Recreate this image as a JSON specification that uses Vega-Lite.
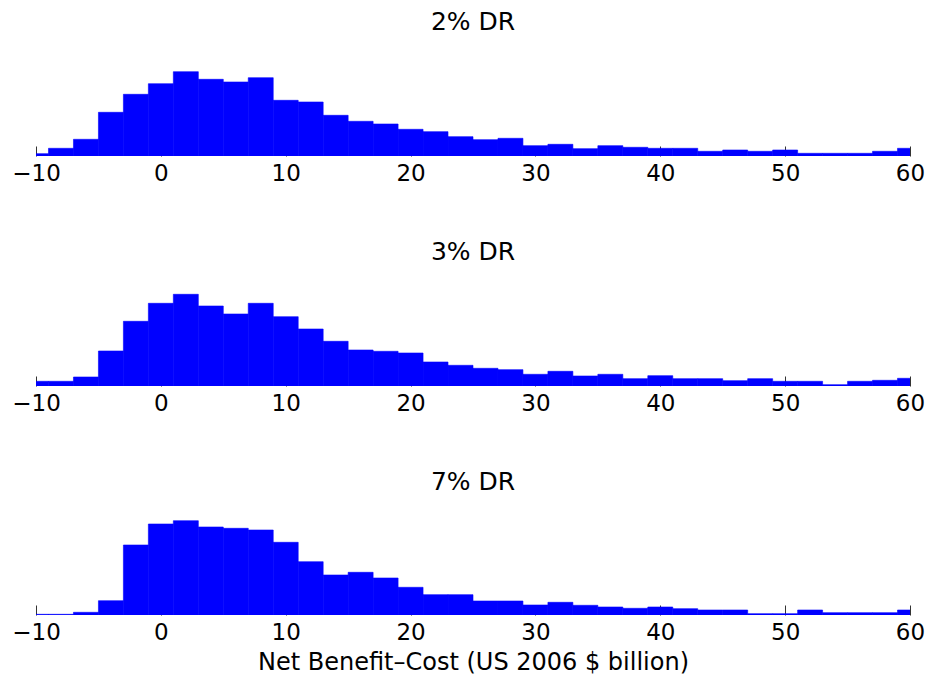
{
  "$schema": "https://vega.github.io/schema/vega-lite/v6.json",
  "padding": {"left": 11, "top": 10, "right": 0, "bottom": 0},
  "background": "white",
  "config": {
    "view": {"stroke": null},
    "font": "DejaVu Sans",
    "axis": {
      "labelFont": "DejaVu Sans",
      "labelFontSize": 23,
      "labelColor": "#000000",
      "titleFont": "DejaVu Sans",
      "titleFontSize": 24,
      "titleFontWeight": "normal",
      "titleColor": "#000000"
    },
    "title": {"font": "DejaVu Sans", "fontSize": 25, "fontWeight": "normal", "color": "#000000"}
  },
  "datasets": {
    "hist": [
      {"dr": "2%", "c": -10, "lo": -11, "hi": -9, "h": 2.3},
      {"dr": "2%", "c": -8, "lo": -9, "hi": -7, "h": 7.7},
      {"dr": "2%", "c": -6, "lo": -7, "hi": -5, "h": 16.7},
      {"dr": "2%", "c": -4, "lo": -5, "hi": -3, "h": 43.7},
      {"dr": "2%", "c": -2, "lo": -3, "hi": -1, "h": 61.7},
      {"dr": "2%", "c": 0, "lo": -1, "hi": 1, "h": 72.3},
      {"dr": "2%", "c": 2, "lo": 1, "hi": 3, "h": 84.3},
      {"dr": "2%", "c": 4, "lo": 3, "hi": 5, "h": 76.7},
      {"dr": "2%", "c": 6, "lo": 5, "hi": 7, "h": 74},
      {"dr": "2%", "c": 8, "lo": 7, "hi": 9, "h": 78.3},
      {"dr": "2%", "c": 10, "lo": 9, "hi": 11, "h": 55.7},
      {"dr": "2%", "c": 12, "lo": 11, "hi": 13, "h": 54},
      {"dr": "2%", "c": 14, "lo": 13, "hi": 15, "h": 40.7},
      {"dr": "2%", "c": 16, "lo": 15, "hi": 17, "h": 34.7},
      {"dr": "2%", "c": 18, "lo": 17, "hi": 19, "h": 32},
      {"dr": "2%", "c": 20, "lo": 19, "hi": 21, "h": 26.7},
      {"dr": "2%", "c": 22, "lo": 21, "hi": 23, "h": 24.3},
      {"dr": "2%", "c": 24, "lo": 23, "hi": 25, "h": 19.3},
      {"dr": "2%", "c": 26, "lo": 25, "hi": 27, "h": 16.3},
      {"dr": "2%", "c": 28, "lo": 27, "hi": 29, "h": 17.7},
      {"dr": "2%", "c": 30, "lo": 29, "hi": 31, "h": 10.3},
      {"dr": "2%", "c": 32, "lo": 31, "hi": 33, "h": 11.7},
      {"dr": "2%", "c": 34, "lo": 33, "hi": 35, "h": 7.3},
      {"dr": "2%", "c": 36, "lo": 35, "hi": 37, "h": 10.3},
      {"dr": "2%", "c": 38, "lo": 37, "hi": 39, "h": 8.7},
      {"dr": "2%", "c": 40, "lo": 39, "hi": 41, "h": 7.7},
      {"dr": "2%", "c": 42, "lo": 41, "hi": 43, "h": 7.7},
      {"dr": "2%", "c": 44, "lo": 43, "hi": 45, "h": 4.7},
      {"dr": "2%", "c": 46, "lo": 45, "hi": 47, "h": 6},
      {"dr": "2%", "c": 48, "lo": 47, "hi": 49, "h": 4.7},
      {"dr": "2%", "c": 50, "lo": 49, "hi": 51, "h": 6},
      {"dr": "2%", "c": 52, "lo": 51, "hi": 53, "h": 2.7},
      {"dr": "2%", "c": 54, "lo": 53, "hi": 55, "h": 2.7},
      {"dr": "2%", "c": 56, "lo": 55, "hi": 57, "h": 2.7},
      {"dr": "2%", "c": 58, "lo": 57, "hi": 59, "h": 4.7},
      {"dr": "2%", "c": 60, "lo": 59, "hi": 61, "h": 7.7},
      {"dr": "3%", "c": -10, "lo": -11, "hi": -9, "h": 4.7},
      {"dr": "3%", "c": -8, "lo": -9, "hi": -7, "h": 4.7},
      {"dr": "3%", "c": -6, "lo": -7, "hi": -5, "h": 9},
      {"dr": "3%", "c": -4, "lo": -5, "hi": -3, "h": 35},
      {"dr": "3%", "c": -2, "lo": -3, "hi": -1, "h": 64.7},
      {"dr": "3%", "c": 0, "lo": -1, "hi": 1, "h": 82.7},
      {"dr": "3%", "c": 2, "lo": 1, "hi": 3, "h": 91.7},
      {"dr": "3%", "c": 4, "lo": 3, "hi": 5, "h": 80},
      {"dr": "3%", "c": 6, "lo": 5, "hi": 7, "h": 72},
      {"dr": "3%", "c": 8, "lo": 7, "hi": 9, "h": 82.7},
      {"dr": "3%", "c": 10, "lo": 9, "hi": 11, "h": 69.3},
      {"dr": "3%", "c": 12, "lo": 11, "hi": 13, "h": 57},
      {"dr": "3%", "c": 14, "lo": 13, "hi": 15, "h": 44.7},
      {"dr": "3%", "c": 16, "lo": 15, "hi": 17, "h": 36},
      {"dr": "3%", "c": 18, "lo": 17, "hi": 19, "h": 34.7},
      {"dr": "3%", "c": 20, "lo": 19, "hi": 21, "h": 33},
      {"dr": "3%", "c": 22, "lo": 21, "hi": 23, "h": 24},
      {"dr": "3%", "c": 24, "lo": 23, "hi": 25, "h": 20.7},
      {"dr": "3%", "c": 26, "lo": 25, "hi": 27, "h": 17.7},
      {"dr": "3%", "c": 28, "lo": 27, "hi": 29, "h": 16.3},
      {"dr": "3%", "c": 30, "lo": 29, "hi": 31, "h": 11.7},
      {"dr": "3%", "c": 32, "lo": 31, "hi": 33, "h": 14.7},
      {"dr": "3%", "c": 34, "lo": 33, "hi": 35, "h": 10},
      {"dr": "3%", "c": 36, "lo": 35, "hi": 37, "h": 11.7},
      {"dr": "3%", "c": 38, "lo": 37, "hi": 39, "h": 7.3},
      {"dr": "3%", "c": 40, "lo": 39, "hi": 41, "h": 10.3},
      {"dr": "3%", "c": 42, "lo": 41, "hi": 43, "h": 7.3},
      {"dr": "3%", "c": 44, "lo": 43, "hi": 45, "h": 7.3},
      {"dr": "3%", "c": 46, "lo": 45, "hi": 47, "h": 5.3},
      {"dr": "3%", "c": 48, "lo": 47, "hi": 49, "h": 7.3},
      {"dr": "3%", "c": 50, "lo": 49, "hi": 51, "h": 4.7},
      {"dr": "3%", "c": 52, "lo": 51, "hi": 53, "h": 4.7},
      {"dr": "3%", "c": 54, "lo": 53, "hi": 55, "h": 1.3},
      {"dr": "3%", "c": 56, "lo": 55, "hi": 57, "h": 4.7},
      {"dr": "3%", "c": 58, "lo": 57, "hi": 59, "h": 5.7},
      {"dr": "3%", "c": 60, "lo": 59, "hi": 61, "h": 7.7},
      {"dr": "7%", "c": -10, "lo": -11, "hi": -9, "h": 0.7},
      {"dr": "7%", "c": -8, "lo": -9, "hi": -7, "h": 0.7},
      {"dr": "7%", "c": -6, "lo": -7, "hi": -5, "h": 2.7},
      {"dr": "7%", "c": -4, "lo": -5, "hi": -3, "h": 14.3},
      {"dr": "7%", "c": -2, "lo": -3, "hi": -1, "h": 70},
      {"dr": "7%", "c": 0, "lo": -1, "hi": 1, "h": 91},
      {"dr": "7%", "c": 2, "lo": 1, "hi": 3, "h": 94.3},
      {"dr": "7%", "c": 4, "lo": 3, "hi": 5, "h": 88},
      {"dr": "7%", "c": 6, "lo": 5, "hi": 7, "h": 86.7},
      {"dr": "7%", "c": 8, "lo": 7, "hi": 9, "h": 85},
      {"dr": "7%", "c": 10, "lo": 9, "hi": 11, "h": 72.7},
      {"dr": "7%", "c": 12, "lo": 11, "hi": 13, "h": 53.3},
      {"dr": "7%", "c": 14, "lo": 13, "hi": 15, "h": 40},
      {"dr": "7%", "c": 16, "lo": 15, "hi": 17, "h": 42.7},
      {"dr": "7%", "c": 18, "lo": 17, "hi": 19, "h": 37},
      {"dr": "7%", "c": 20, "lo": 19, "hi": 21, "h": 27.7},
      {"dr": "7%", "c": 22, "lo": 21, "hi": 23, "h": 20.3},
      {"dr": "7%", "c": 24, "lo": 23, "hi": 25, "h": 20.3},
      {"dr": "7%", "c": 26, "lo": 25, "hi": 27, "h": 14},
      {"dr": "7%", "c": 28, "lo": 27, "hi": 29, "h": 14},
      {"dr": "7%", "c": 30, "lo": 29, "hi": 31, "h": 10},
      {"dr": "7%", "c": 32, "lo": 31, "hi": 33, "h": 12.7},
      {"dr": "7%", "c": 34, "lo": 33, "hi": 35, "h": 9.7},
      {"dr": "7%", "c": 36, "lo": 35, "hi": 37, "h": 8},
      {"dr": "7%", "c": 38, "lo": 37, "hi": 39, "h": 6.7},
      {"dr": "7%", "c": 40, "lo": 39, "hi": 41, "h": 8},
      {"dr": "7%", "c": 42, "lo": 41, "hi": 43, "h": 6.3},
      {"dr": "7%", "c": 44, "lo": 43, "hi": 45, "h": 5},
      {"dr": "7%", "c": 46, "lo": 45, "hi": 47, "h": 5},
      {"dr": "7%", "c": 48, "lo": 47, "hi": 49, "h": 1.3},
      {"dr": "7%", "c": 50, "lo": 49, "hi": 51, "h": 1.3},
      {"dr": "7%", "c": 52, "lo": 51, "hi": 53, "h": 5},
      {"dr": "7%", "c": 54, "lo": 53, "hi": 55, "h": 2.3},
      {"dr": "7%", "c": 56, "lo": 55, "hi": 57, "h": 2.3},
      {"dr": "7%", "c": 58, "lo": 57, "hi": 59, "h": 2.3},
      {"dr": "7%", "c": 60, "lo": 59, "hi": 61, "h": 5}
    ]
  },
  "spacing": 55,
  "vconcat": [
    {
      "width": 874,
      "height": 100,
      "title": {"text": "2% DR", "baseline": "alphabetic", "offset": 1},
      "data": {"name": "hist"},
      "transform": [{"filter": "datum.dr === '2%'"}],
      "mark": {"type": "bar", "color": "#0000ff", "stroke": "#0000ff", "strokeWidth": 0.6, "clip": true},
      "encoding": {
        "x": {"field": "lo", "type": "quantitative", "scale": {"domain": [-10, 60], "nice": false},
              "axis": {"values": [-10, 0, 10, 20, 30, 40, 50, 60], "domain": false, "grid": false, "tickSize": -10, "tickColor": "#333333", "labelPadding": 16, "labelFlush": false, "labelOverlap": false, "title": null}},
        "x2": {"field": "hi"},
        "y": {"field": "h", "type": "quantitative", "scale": {"domain": [0, 100], "nice": false}, "axis": null},
        "y2": {"datum": 0}
      }
    },
    {
      "width": 874,
      "height": 100,
      "title": {"text": "3% DR", "baseline": "alphabetic", "offset": 1},
      "data": {"name": "hist"},
      "transform": [{"filter": "datum.dr === '3%'"}],
      "mark": {"type": "bar", "color": "#0000ff", "stroke": "#0000ff", "strokeWidth": 0.6, "clip": true},
      "encoding": {
        "x": {"field": "lo", "type": "quantitative", "scale": {"domain": [-10, 60], "nice": false},
              "axis": {"values": [-10, 0, 10, 20, 30, 40, 50, 60], "domain": false, "grid": false, "tickSize": -10, "tickColor": "#333333", "labelPadding": 16, "labelFlush": false, "labelOverlap": false, "title": null}},
        "x2": {"field": "hi"},
        "y": {"field": "h", "type": "quantitative", "scale": {"domain": [0, 100], "nice": false}, "axis": null},
        "y2": {"datum": 0}
      }
    },
    {
      "width": 874,
      "height": 100,
      "title": {"text": "7% DR", "baseline": "alphabetic", "offset": 0},
      "data": {"name": "hist"},
      "transform": [{"filter": "datum.dr === '7%'"}],
      "mark": {"type": "bar", "color": "#0000ff", "stroke": "#0000ff", "strokeWidth": 0.6, "clip": true},
      "encoding": {
        "x": {"field": "lo", "type": "quantitative", "scale": {"domain": [-10, 60], "nice": false},
              "axis": {"values": [-10, 0, 10, 20, 30, 40, 50, 60], "domain": false, "grid": false, "tickSize": -10, "tickColor": "#333333", "labelPadding": 16, "labelFlush": false, "labelOverlap": false, "title": "Net Benefit–Cost (US 2006 $ billion)", "titlePadding": 6}},
        "x2": {"field": "hi"},
        "y": {"field": "h", "type": "quantitative", "scale": {"domain": [0, 100], "nice": false}, "axis": null},
        "y2": {"datum": 0}
      }
    }
  ]
}
